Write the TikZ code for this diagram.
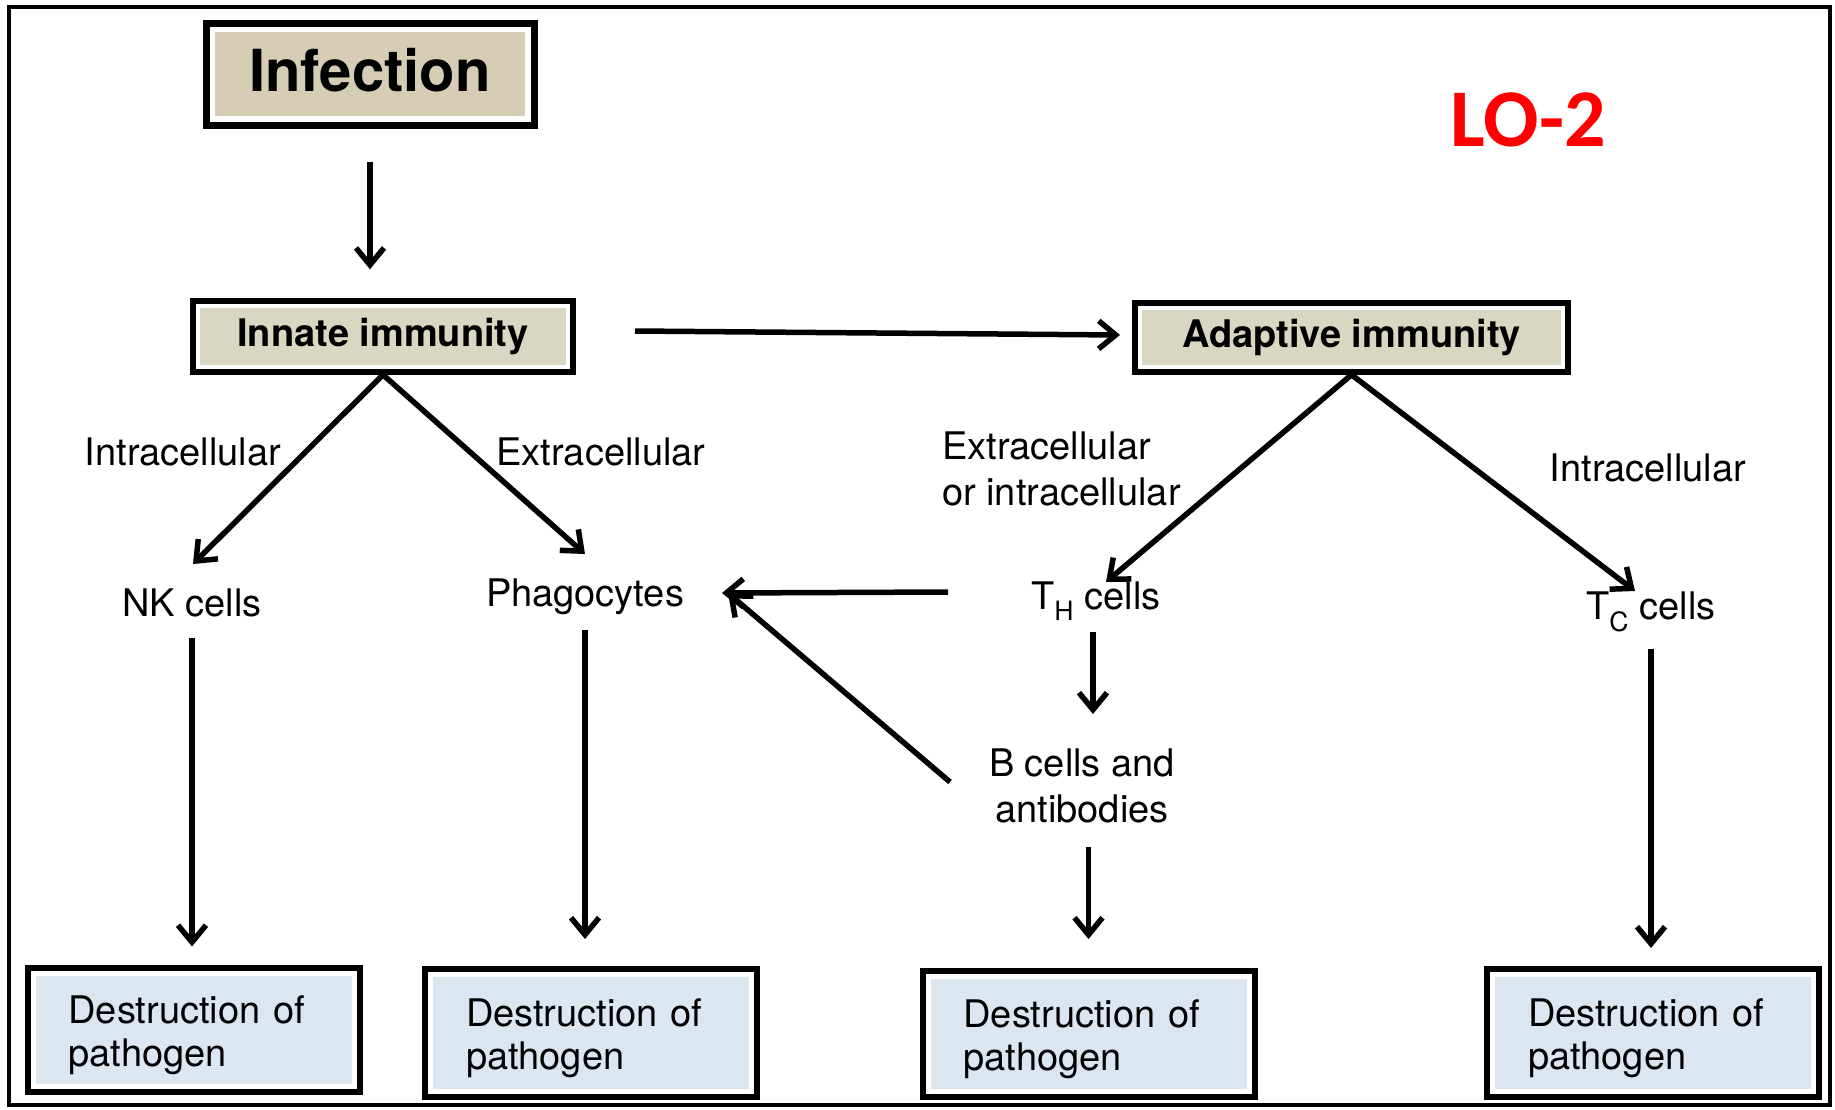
\documentclass[tikz,border=0pt]{standalone}
\usepackage{fontspec}
\setmainfont{TeX Gyre Heros}
\newfontfamily\lofont{Carlito}
\usetikzlibrary{arrows.meta}
\definecolor{tanA}{RGB}{214,205,180}
\definecolor{tanB}{RGB}{217,214,193}
\definecolor{blueF}{RGB}{220,230,241}
\definecolor{loRed}{RGB}{255,0,0}
\newcommand{\destxt}{\rule{0pt}{39pt}Destruction of\\pathogen}
\tikzset{
  insetfill/.style 2 args={path picture={\fill[#1] ([shift={(#2,-#2)}]path picture bounding box.north west) rectangle ([shift={(-#2,#2)}]path picture bounding box.south east);}},
  boxnode/.style={draw=black, fill=white, line width=6pt, inner sep=0pt},
  headbox/.style={boxnode, line width=5.5pt, insetfill={tanB}{7pt}, font=\fontsize{38}{44}\selectfont\bfseries},
  endbox/.style={boxnode, insetfill={blueF}{8pt}, align=left, text width=250pt, inner xsep=41pt, minimum height=124pt, font=\fontsize{38}{43}\selectfont},
  lbl/.style={inner sep=0pt, font=\fontsize{38}{46}\selectfont},
  arr/.style={line width=5.5pt, -{Straight Barb[length=17pt,width=28pt]}},
}
\begin{document}
\begin{tikzpicture}[x=1pt,y=-1pt]
\useasboundingbox (0,0) rectangle (1835,1109);
\draw[line width=4.5pt] (9,7) rectangle (1830,1105);

% top boxes
\node[boxnode, line width=7pt, insetfill={tanA}{9pt}, minimum width=328pt, minimum height=102pt, font=\fontsize{58}{62}\selectfont\bfseries] (inf) at (370,74) {\raisebox{8pt}{Infection}};
\node[headbox, minimum width=380pt, minimum height=71pt] (innate) at (383,336.5) {Innate immunity};
\node[headbox, minimum width=433pt, minimum height=69pt] (adapt) at (1351.5,337.5) {Adaptive immunity};

\node[font=\fontsize{82}{84}\selectfont\lofont\bfseries, text=loRed, inner sep=0pt] (lo) at (1528,120) {LO-2};

% labels
\node[lbl] (lIntraL) at (183,452) {Intracellular};
\node[lbl] (lExtraL) at (601,452) {Extracellular};
\node[lbl, align=left, anchor=west] (lExOr) at (942,469) {Extracellular\\or intracellular};
\node[lbl] (lIntraR) at (1648,468) {Intracellular};

% cell nodes
\node[lbl] (nk) at (192,603) {NK cells};
\node[lbl] (phago) at (585,597) {Phagocytes};
\node[lbl] (th) at (1096,601) {T\textsubscript{H} cells};
\node[lbl] (tc) at (1651,612) {T\textsubscript{C} cells};
\node[lbl, align=center] (bcell) at (1082,786) {B cells and\\antibodies};

% destruction boxes
\node[endbox] (d1) at (193.5,1029.5) {\destxt};
\node[endbox, minimum height=128pt] (d2) at (591,1033) {\destxt};
\node[endbox, minimum height=126pt] (d3) at (1088.5,1034) {\destxt};
\node[endbox, minimum height=128pt] (d4) at (1653,1033) {\destxt};

% arrow end coordinates
\coordinate (nkTip) at (193,564);
\coordinate (phTip) at (585,554);
\coordinate (thTip) at (1106,582);
\coordinate (tcTip) at (1635,591);
\coordinate (phR) at (722,593);
\coordinate (phR2) at (728,593);
\coordinate (thOut) at (948,592);
\coordinate (bOut) at (950,782);
\coordinate (thDown0) at (1093,632);
\coordinate (thDown1) at (1093,714);
\coordinate (innR) at (635,331);
\coordinate (adL) at (1120,335);

% connectors
\draw[arr, shorten <=33pt, shorten >=29pt] (inf.south) -- (inf.south |- innate.north);
\draw[arr] (innR) -- (adL);
\draw[arr] (innate.south) -- (nkTip);
\draw[arr] (innate.south) -- (phTip);
\draw[arr] (adapt.south) -- (thTip);
\draw[arr] (adapt.south) -- (tcTip);
\draw[arr] (thOut) -- (phR);
\draw[arr] (bOut) -- (phR2);
\draw[arr] (thDown0) -- (thDown1);
\draw[arr, shorten <=21pt, shorten >=18pt] (nk.south) -- (nk.south |- d1.north);
\draw[arr, shorten <=15pt, shorten >=27pt] (phago.south) -- (phago.south |- d2.north);
\draw[arr, shorten <=24pt, shorten >=29pt] (bcell.south -| d3.north) -- (d3.north);
\draw[arr, shorten <=17pt, shorten >=18pt] (tc.south) -- (tc.south |- d4.north);
\end{tikzpicture}
\end{document}
